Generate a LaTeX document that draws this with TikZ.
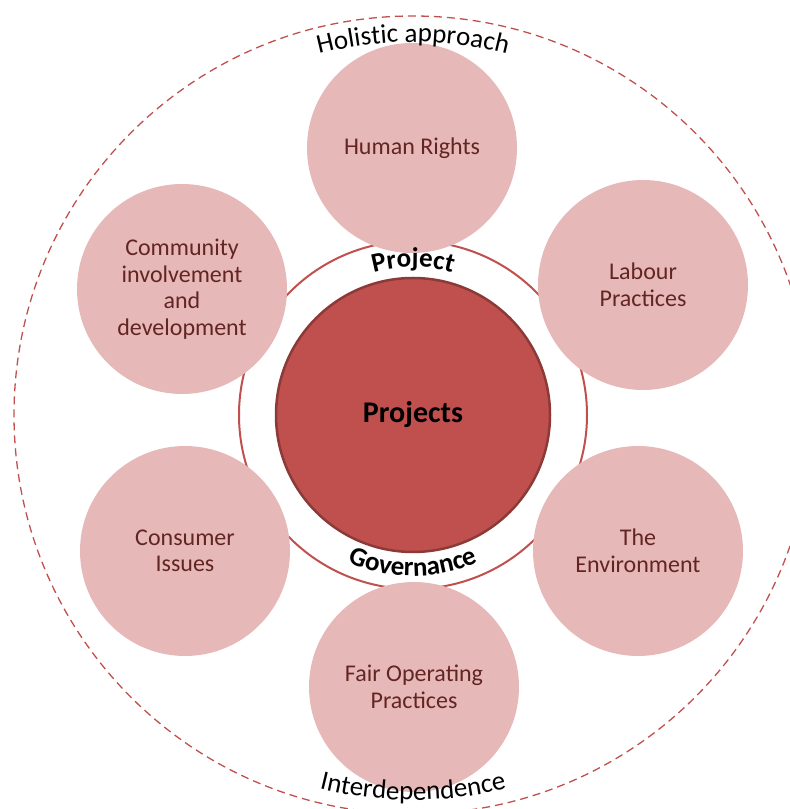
\documentclass[tikz,border=0pt]{standalone}
\usepackage{fontspec}
\setmainfont{Carlito}
\usetikzlibrary{decorations.text}
\definecolor{satfill}{HTML}{E6B9B8}
\definecolor{sattext}{HTML}{632523}
\definecolor{corefill}{HTML}{C0504D}
\definecolor{coredraw}{HTML}{8C3A38}
\definecolor{ringcol}{HTML}{C0504D}
\newcommand\arclabel[5]{%
  \path[decorate, decoration={text along path, text align=center, text color=black,
      text={|\fontsize{27}{27}\selectfont#5|#4}}]
    ([shift={(#2:#1)}]C) arc[start angle=#2, end angle=#3, radius=#1];}
\begin{document}
\begin{tikzpicture}[x=1pt,y=1pt,
  satellite/.style={circle, fill=satfill, minimum size=210pt, inner sep=0pt,
    align=center, text=sattext, font=\fontsize{24}{26.5}\selectfont},
  corecircle/.style={circle, fill=corefill, draw=coredraw, line width=2.5pt,
    minimum size=274pt, inner sep=0pt, font=\fontsize{30}{30}\selectfont\bfseries},
  ringcircle/.style={circle, draw=ringcol, line width=2pt, minimum size=348pt, inner sep=0pt},
  outercircle/.style={circle, draw=ringcol, line width=1.3pt, dash pattern=on 8pt off 5pt,
    minimum size=798pt, inner sep=0pt}]
\useasboundingbox (0,0) rectangle (790,809);
\clip (0,0) rectangle (790,809);
\coordinate (C) at (413,394);
\node[outercircle] (outer) at (C) {};
\node[ringcircle] (ring) at (C) {};
\node[corecircle] (core) at (C) {Projects};
\node[satellite] (hr)  at ([shift={(-1,267)}]C)    {Human Rights};
\node[satellite] (lab) at ([shift={(230,130)}]C)   {Labour\\Practices};
\node[satellite] (env) at ([shift={(225,-136)}]C)  {The\\Environment};
\node[satellite] (fop) at ([shift={(1,-272)}]C)    {Fair Operating\\Practices};
\node[satellite] (con) at ([shift={(-228,-136)}]C) {Consumer\\Issues};
\node[satellite] (com) at ([shift={(-231,126)}]C)  {Community\\involvement\\and\\development};
\arclabel{373}{180}{0}{Holistic approach}{}
\arclabel{385}{180}{360}{Interdependence}{}
\arclabel{148}{180}{0}{Project}{\bfseries}
\arclabel{161}{180}{360}{Governance}{\bfseries}
\end{tikzpicture}
\end{document}
